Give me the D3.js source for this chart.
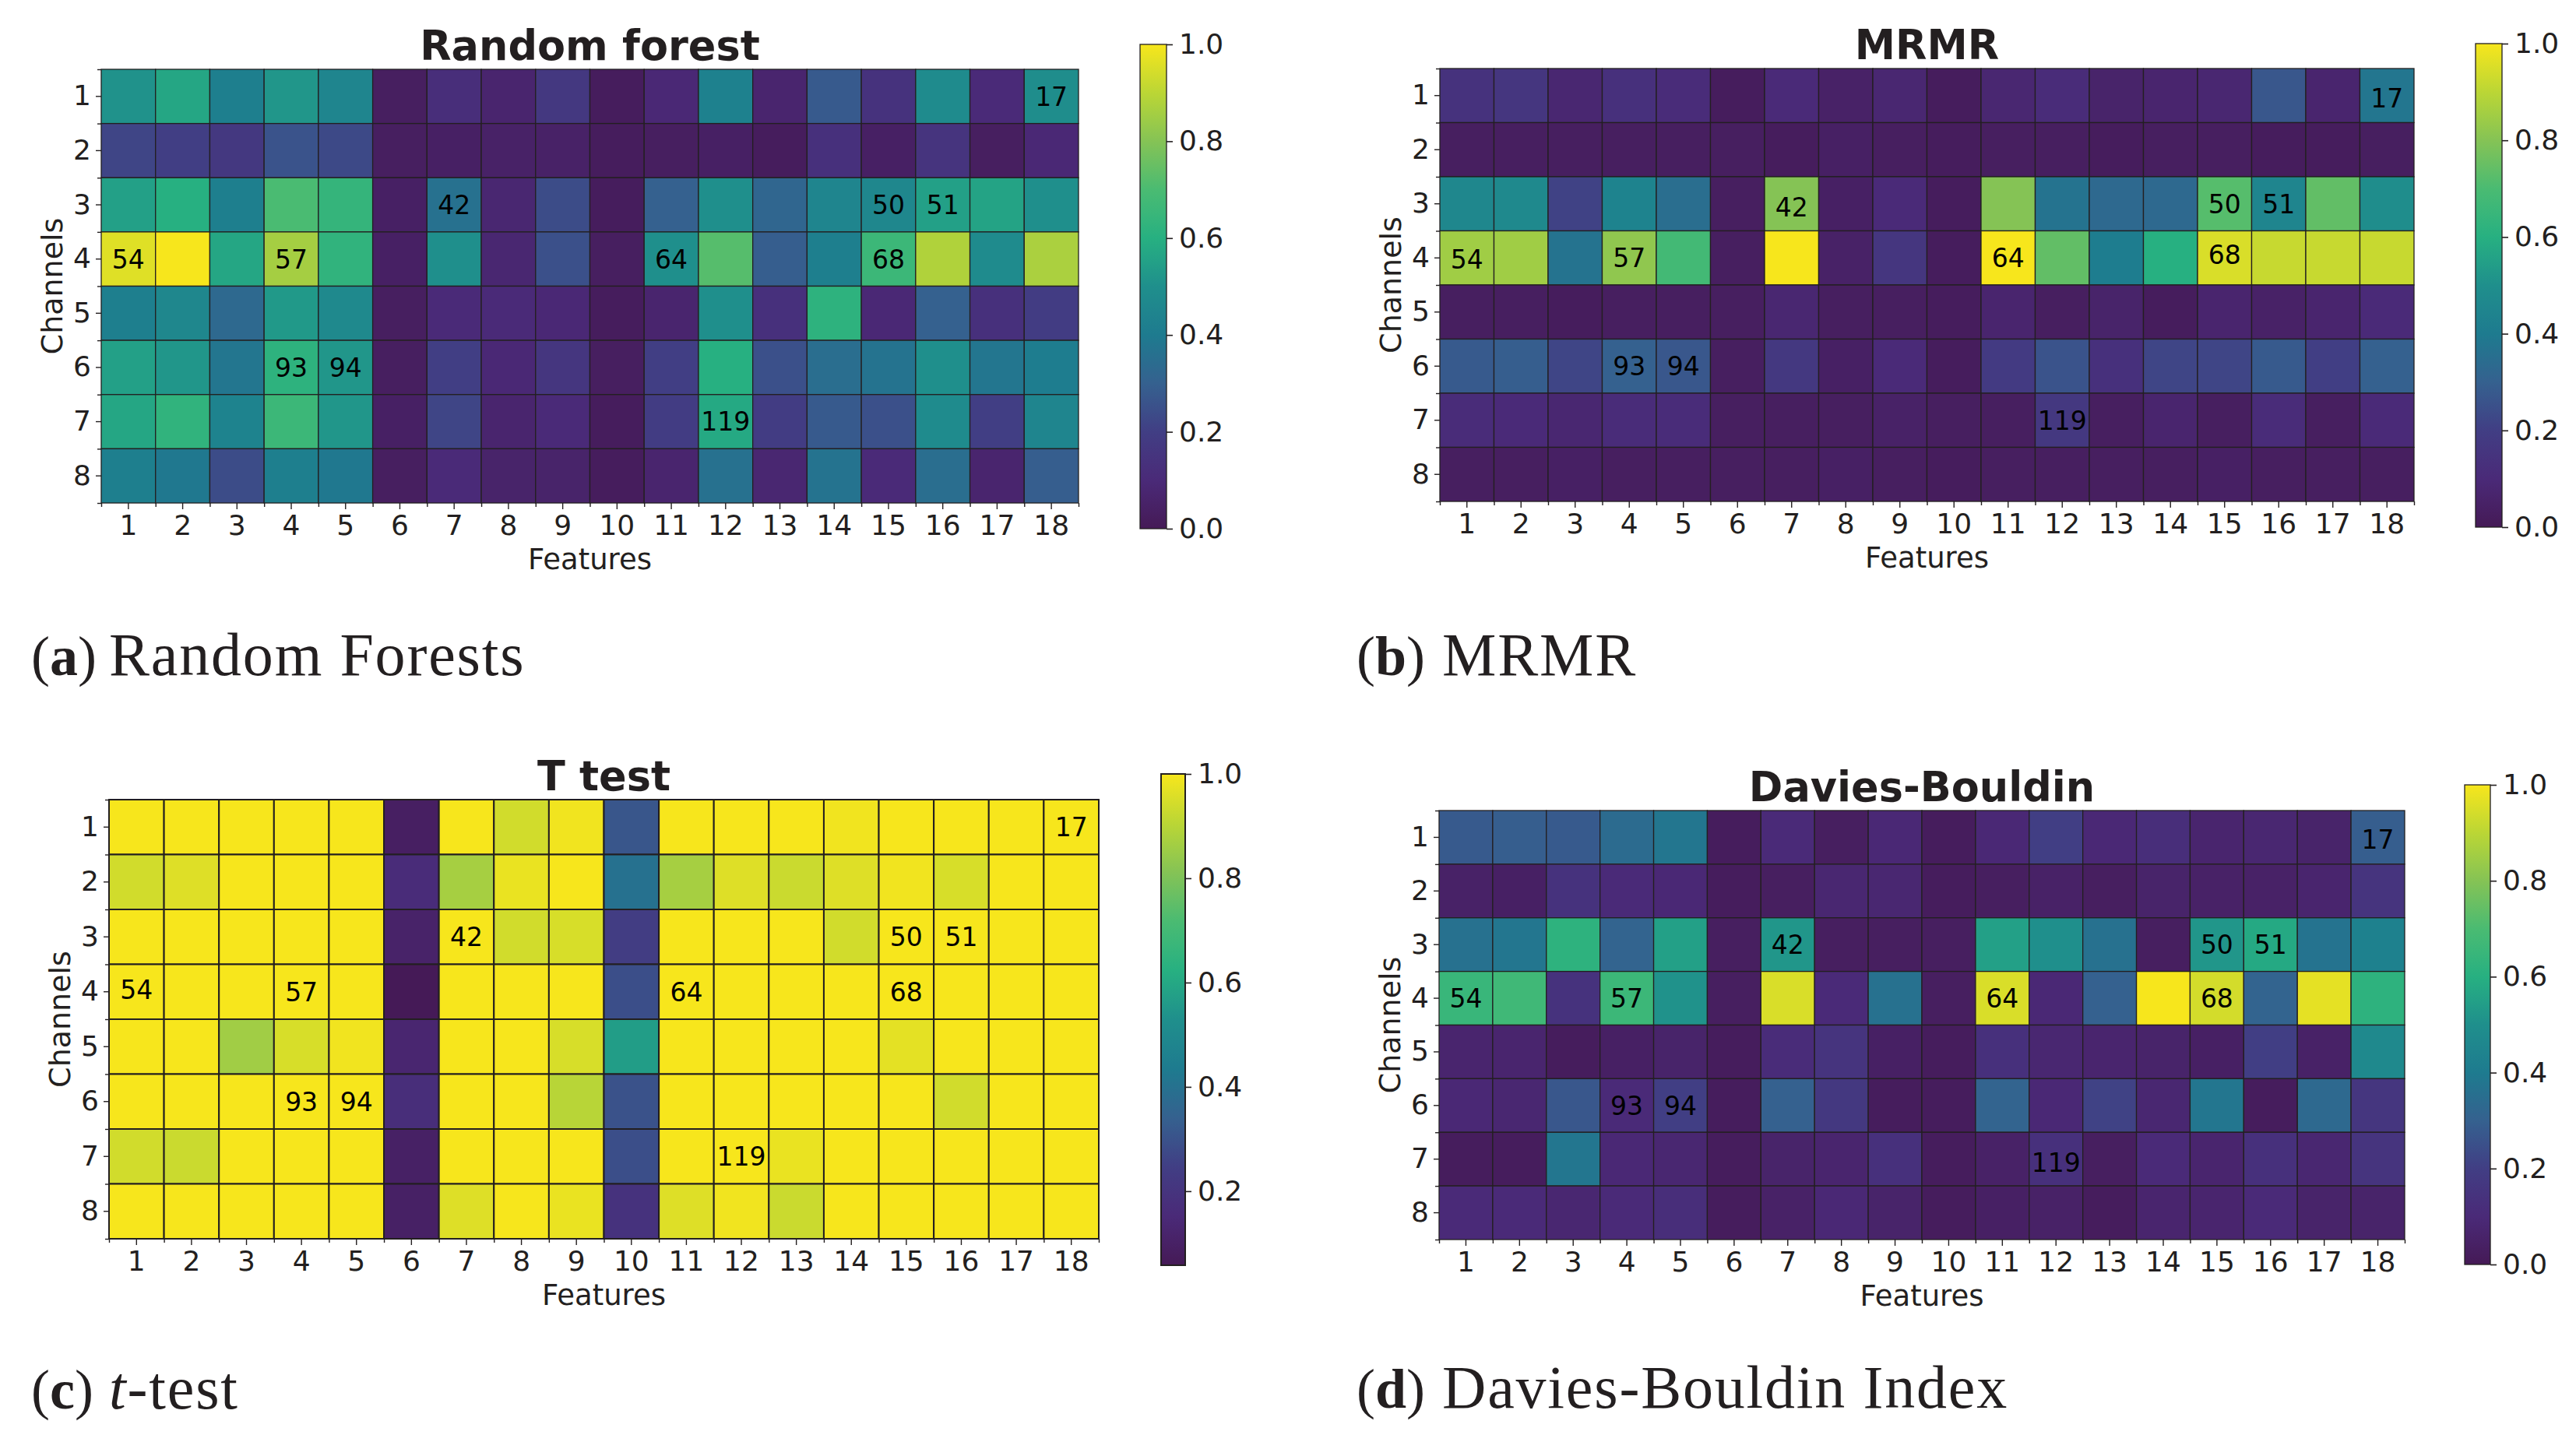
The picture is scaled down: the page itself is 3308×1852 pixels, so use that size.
<!DOCTYPE html>
<html>
<head>
<meta charset="utf-8">
<script src="https://cdn.jsdelivr.net/npm/d3@7"></script>
<style>
  html, body { margin: 0; padding: 0; background: #fff; }
  svg { display: block; }
  text { fill: #231f20; font-family: "DejaVu Sans", sans-serif; }
  .caption { font-family: "Liberation Serif", serif; font-size: 72px; }
  .captext { font-size: 78px; letter-spacing: 1.8px; }
</style>
</head>
<body>
<svg id="fig" width="3308" height="1852"></svg>
<script>
var channels = [1, 2, 3, 4, 5, 6, 7, 8]
var features = [1, 2, 3, 4, 5, 6, 7, 8, 9, 10, 11, 12, 13, 14, 15, 16, 17, 18]

// selected features: channel, feature, number printed in the cell
var markChannel = [1, 3, 3, 3, 4, 4, 4, 4, 6, 6, 7]
var markFeature = [18, 7, 15, 16, 1, 4, 11, 15, 4, 5, 12]
var markLabel = [17, 42, 50, 51, 54, 57, 64, 68, 93, 94, 119]

var randomForest = [
  [.51, .57, .42, .52, .45, .03, .12, .07, .17, .02, .09, .43, .07, .28, .14, .48, .10, .49],
  [.22, .20, .17, .26, .23, .03, .04, .05, .05, .02, .03, .04, .02, .13, .04, .15, .03, .09],
  [.55, .60, .42, .70, .64, .04, .36, .08, .24, .02, .30, .50, .32, .45, .46, .55, .56, .50],
  [.96, 1.0, .57, .86, .63, .04, .50, .08, .25, .03, .50, .72, .29, .42, .66, .88, .48, .87],
  [.42, .46, .33, .53, .47, .03, .10, .10, .09, .02, .07, .50, .13, .62, .09, .30, .13, .19],
  [.55, .52, .38, .62, .52, .03, .20, .09, .16, .03, .20, .60, .25, .35, .37, .50, .38, .41],
  [.57, .63, .44, .66, .52, .04, .22, .07, .10, .02, .19, .58, .19, .28, .25, .48, .20, .45],
  [.42, .39, .24, .42, .39, .03, .10, .06, .06, .02, .07, .36, .08, .37, .10, .35, .07, .29]
]
var mrmr = [
  [.14, .16, .08, .13, .11, .02, .10, .05, .08, .02, .08, .11, .06, .07, .08, .27, .07, .38],
  [.03, .03, .03, .03, .03, .03, .02, .04, .03, .02, .03, .03, .02, .03, .03, .02, .02, .03],
  [.46, .47, .21, .44, .35, .03, .80, .04, .10, .02, .80, .37, .33, .33, .72, .45, .74, .49],
  [.85, .85, .37, .82, .68, .03, 1.0, .05, .16, .02, 1.0, .74, .41, .60, .95, .92, .92, .92],
  [.03, .03, .02, .03, .03, .03, .08, .03, .03, .02, .07, .03, .06, .02, .07, .05, .07, .10],
  [.28, .29, .22, .30, .27, .03, .17, .04, .10, .02, .18, .26, .13, .22, .22, .28, .20, .30],
  [.11, .10, .08, .11, .11, .03, .03, .03, .05, .03, .03, .17, .03, .07, .03, .11, .03, .10],
  [.03, .03, .04, .03, .03, .03, .03, .04, .03, .02, .03, .03, .03, .03, .04, .03, .03, .03]
]
var tTest = [
  [1, 1, 1, 1, 1, .09, 1, .94, .99, .31, 1, 1, 1, .99, 1, 1, 1, 1],
  [.94, .96, 1, 1, 1, .16, .87, .98, 1, .40, .87, .96, .93, .96, .99, .95, 1, 1],
  [1, 1, 1, 1, 1, .11, 1, .94, .95, .24, 1, 1, 1, .94, 1, 1, 1, 1],
  [1, 1, 1, 1, 1, .06, 1, 1, 1, .29, 1, 1, 1, 1, 1, 1, 1, 1],
  [1, 1, .86, .95, .99, .13, 1, 1, .95, .57, 1, 1, 1, 1, .97, 1, 1, 1],
  [1, 1, 1, 1, 1, .17, 1, 1, .90, .30, 1, 1, 1, 1, 1, .94, 1, 1],
  [.94, .93, 1, 1, 1, .10, 1, 1, 1, .29, 1, 1, .98, 1, 1, 1, 1, 1],
  [1, 1, 1, 1, 1, .10, .96, 1, .98, .19, .96, .99, .93, 1, 1, 1, 1, 1]
]
var daviesBouldin = [
  [.28, .29, .28, .34, .38, .02, .10, .03, .09, .02, .09, .20, .09, .12, .07, .08, .06, .29],
  [.05, .04, .14, .10, .09, .02, .03, .08, .08, .02, .03, .05, .03, .06, .05, .05, .07, .15],
  [.36, .38, .62, .31, .55, .03, .52, .03, .03, .03, .55, .50, .36, .03, .52, .58, .37, .43],
  [.65, .67, .14, .66, .51, .03, .95, .10, .36, .03, .95, .09, .30, 1.0, .94, .31, .97, .62],
  [.07, .07, .02, .04, .06, .02, .11, .15, .04, .02, .13, .08, .07, .06, .04, .20, .05, .47],
  [.09, .08, .27, .10, .20, .02, .30, .17, .02, .02, .31, .09, .21, .08, .38, .02, .33, .16],
  [.02, .02, .38, .09, .08, .02, .06, .07, .13, .02, .05, .13, .03, .10, .07, .13, .08, .15],
  [.10, .10, .08, .10, .12, .02, .05, .09, .06, .02, .04, .05, .02, .07, .07, .10, .06, .06]
]

var colorTicks = [0, .2, .4, .6, .8, 1]
var colorTicksT = [.2, .4, .6, .8, 1]

// viridis as it came out in the printed figure
var printedViridis = ['#451a56', '#4a2a78', '#413e84', '#35618f', '#1e7b8f', '#1f8f8c',
  '#27b081', '#4abb72', '#85c355', '#bbd635', '#f7e61c']
var viridisPrint = d3.piecewise(d3.interpolateRgb, printedViridis)

var svg = d3.select('#fig')

function drawPanel (p) {
  var x = d3.scaleBand().domain(features).range([p.left, p.right])
  var y = d3.scaleBand().domain(channels).range([p.top, p.bottom])
  var color = d3.scaleSequential(viridisPrint).domain(p.domain)
  var g = svg.append('g')

  var cells = []
  p.values.forEach(function (row, i) {
    row.forEach(function (v, j) {
      cells.push({ channel: channels[i], feature: features[j], v: v })
    })
  })
  g.selectAll('rect.cell').data(cells).enter().append('rect')
    .attr('class', 'cell')
    .attr('x', function (d) { return x(d.feature) })
    .attr('y', function (d) { return y(d.channel) })
    .attr('width', x.bandwidth())
    .attr('height', y.bandwidth())
    .style('fill', function (d) { return color(d.v) })
    .style('stroke', '#231f20')
    .style('stroke-width', p.grid)

  g.selectAll('text.mark').data(markLabel).enter().append('text')
    .attr('class', 'mark')
    .attr('x', function (d, i) { return x(markFeature[i]) + x.bandwidth() / 2 })
    .attr('y', function (d, i) { return y(markChannel[i]) + y.bandwidth() / 2 + (p.nudge[d] || 0) })
    .attr('dy', '.36em')
    .attr('text-anchor', 'middle')
    .style('font-size', '33px')
    .style('fill', '#000')
    .text(function (d) { return d })

  // ticks at cell centres with labels, shorter unlabelled ticks on the cell edges
  var xEdge = d3.scaleLinear().domain([0, features.length]).range([p.left, p.right])
  var yEdge = d3.scaleLinear().domain([0, channels.length]).range([p.top, p.bottom])
  var axes = [
    g.append('g').attr('transform', 'translate(0,' + p.bottom + ')')
      .call(d3.axisBottom(xEdge).tickValues(d3.range(features.length + 1)).tickSize(5).tickFormat('')),
    g.append('g').attr('transform', 'translate(' + p.left + ',0)')
      .call(d3.axisLeft(yEdge).tickValues(d3.range(channels.length + 1)).tickSize(5).tickFormat('')),
    g.append('g').attr('transform', 'translate(0,' + p.bottom + ')')
      .call(d3.axisBottom(x).tickSize(8).tickPadding(7)),
    g.append('g').attr('transform', 'translate(' + p.left + ',0)')
      .call(d3.axisLeft(y).tickSize(7).tickPadding(6))
  ]
  axes.forEach(function (a) {
    a.select('.domain').remove()
    a.selectAll('line').style('stroke', '#231f20').style('stroke-width', 1.4)
    a.selectAll('text').style('font-size', '36px').style('font-family', '"DejaVu Sans", sans-serif').style('fill', '#231f20')
  })

  var cx = (p.left + p.right) / 2
  g.append('text').attr('x', cx).attr('y', p.top - 12)
    .attr('text-anchor', 'middle')
    .style('font-size', '52.5px').style('font-weight', 'bold')
    .text(p.title)
  g.append('text').attr('x', cx).attr('y', p.bottom + 85)
    .attr('text-anchor', 'middle')
    .style('font-size', '37px')
    .text('Features')
  g.append('text')
    .attr('transform', 'translate(' + (p.left - 50) + ',' + (p.top + p.bottom) / 2 + ') rotate(-90)')
    .attr('text-anchor', 'middle')
    .style('font-size', '38px')
    .text('Channels')

  // colour bar
  var gradId = 'grad' + p.id
  var stops = d3.range(0, 1.0001, 0.05)
  var bar = d3.scaleLinear().domain(p.domain).range([p.barBottom, p.barTop])
  svg.append('defs').append('linearGradient').attr('id', gradId)
    .attr('x1', 0).attr('y1', 1).attr('x2', 0).attr('y2', 0)
    .selectAll('stop').data(stops).enter().append('stop')
    .attr('offset', function (d) { return d })
    .attr('stop-color', function (d) { return viridisPrint(d) })
  g.append('rect')
    .attr('x', p.barLeft).attr('y', p.barTop)
    .attr('width', p.barWidth).attr('height', p.barBottom - p.barTop)
    .style('fill', 'url(#' + gradId + ')')
    .style('stroke', '#231f20').style('stroke-width', p.grid)
  var cb = g.append('g').attr('transform', 'translate(' + (p.barLeft + p.barWidth) + ',0)')
    .call(d3.axisRight(bar).tickValues(p.ticks).tickFormat(d3.format('.1f')).tickSize(8).tickPadding(8))
  cb.select('.domain').remove()
  cb.selectAll('line').style('stroke', '#231f20').style('stroke-width', 1.6)
  cb.selectAll('text').style('font-size', '36px').style('font-family', '"DejaVu Sans", sans-serif').style('fill', '#231f20')

  // caption under the panel
  var cap = svg.append('text').attr('class', 'caption').attr('x', p.capX).attr('y', p.capY)
  cap.append('tspan').text('(')
  cap.append('tspan').style('font-weight', 'bold').text(p.capLetter)
  cap.append('tspan').text(')')
  var body = svg.append('text').attr('class', 'caption captext').attr('x', p.capTextX).attr('y', p.capY)
  if (p.capItalic) body.append('tspan').style('font-style', 'italic').text(p.capItalic)
  body.append('tspan').text(p.capText)
}

var panels = [
  { id: 'a', title: 'Random forest', values: randomForest, domain: [0, 1], ticks: colorTicks, grid: 1.3,
    left: 130, right: 1385, top: 89, bottom: 646, nudge: {},
    barLeft: 1464, barWidth: 34, barTop: 57, barBottom: 679,
    capX: 40, capTextX: 140, capY: 867, capLetter: 'a', capText: 'Random Forests' },
  { id: 'b', title: 'MRMR', values: mrmr, domain: [0, 1], ticks: colorTicks, grid: 1.3,
    left: 1849, right: 3100, top: 88, bottom: 644, nudge: { 17: 3, 42: 4, 54: 2, 68: -4 },
    barLeft: 3179, barWidth: 34, barTop: 56, barBottom: 677,
    capX: 1742, capTextX: 1852, capY: 867, capLetter: 'b', capText: 'MRMR' },
  { id: 'c', title: 'T test', values: tTest, domain: [.058, 1], ticks: colorTicksT, grid: 2,
    left: 140, right: 1411, top: 1027, bottom: 1591, nudge: { 54: -3 },
    barLeft: 1491, barWidth: 31, barTop: 994, barBottom: 1625,
    capX: 40, capTextX: 140, capY: 1809, capLetter: 'c', capItalic: 't', capText: '-test' },
  { id: 'd', title: 'Davies-Bouldin', values: daviesBouldin, domain: [0, 1], ticks: colorTicks, grid: 1.3,
    left: 1848, right: 3088, top: 1041, bottom: 1592, nudge: { 17: 3, 119: 4 },
    barLeft: 3165, barWidth: 33, barTop: 1008, barBottom: 1624,
    capX: 1742, capTextX: 1852, capY: 1808, capLetter: 'd', capText: 'Davies-Bouldin Index' }
]

panels.forEach(drawPanel)
</script>
</body>
</html>
